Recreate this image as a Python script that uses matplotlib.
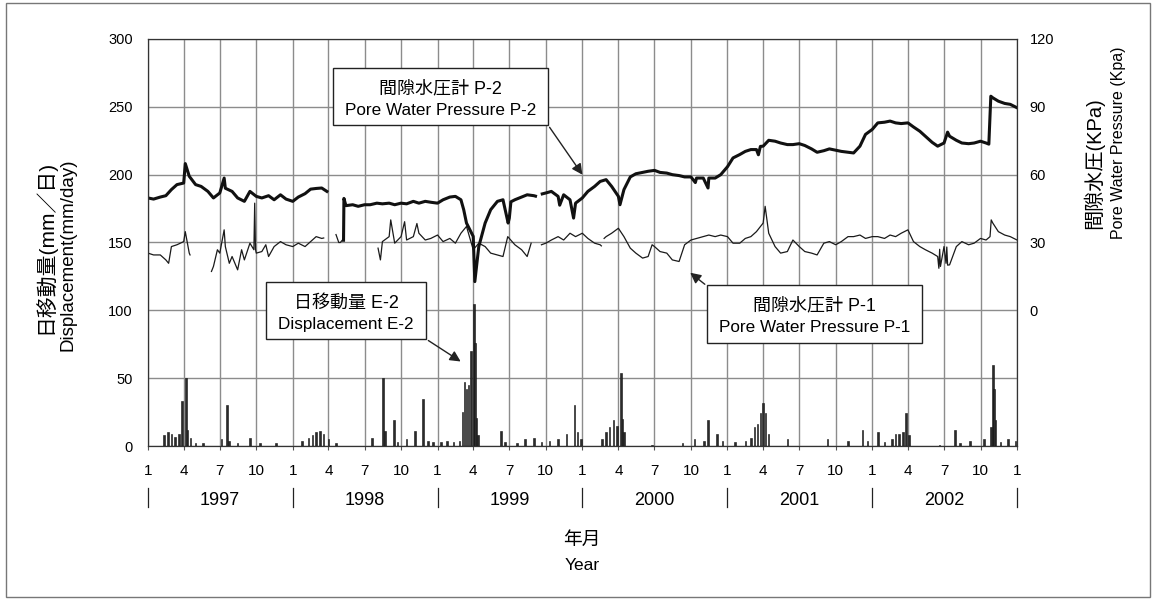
import numpy as np
import pandas as pd
import matplotlib
matplotlib.use('Agg')
import matplotlib.pyplot as plt
import matplotlib.dates as mdates
from matplotlib.ticker import FuncFormatter
from matplotlib.transforms import blended_transform_factory
from matplotlib.patches import Rectangle, FancyArrowPatch

plt.rcParams['font.family'] = ['Liberation Sans', 'Noto Sans CJK JP']

nan = np.nan
W, H = 1154, 603

# pore water pressure P-2 (KPa), read on the 1st and 15th of each month
p2_1997 = [49.7, 49.2, 50.1, 50.7, 53.4, 55.6, 56.3, 59.3, 55.6, 54.8, 52.6, 49.7,
           51.9, 54.0, 52.6, 49.7, 48.2, 52.6, 50.4, 49.7, 50.7, 48.9, 51.1, 49.2]
p2_1998 = [48.2, 50.1, 51.6, 53.6, 53.9, 54.1, nan, nan, nan, 46.3, 46.7, 46.0,
           46.7, 46.7, 47.4, 47.1, 47.4, 46.7, 47.4, 47.1, 48.2, 47.4, 48.2, 47.8]
p2_1999 = [47.4, 48.9, 50.1, 50.4, 48.9, 38.6, 32.7, 28.2, 38.6, 44.5, 48.2, 48.9,
           40.8, 48.9, 50.1, 51.1, 50.7, nan, 51.9, 52.6, 50.4, 51.1, 48.9, 47.4]
p2_2000 = [49.7, 52.6, 54.8, 57.0, 57.8, 54.8, 50.4, 53.4, 59.0, 60.4, 61.0, 61.5,
           61.9, 61.0, 60.7, 60.0, 59.6, 59.0, 59.0, 58.5, 58.5, 58.5, 58.5, 60.0]
p2_2001 = [63.5, 67.4, 68.9, 70.3, 71.1, 71.1, 72.6, 75.2, 74.8, 74.0, 73.3, 73.3,
           73.7, 72.9, 71.4, 69.9, 70.6, 71.4, 70.8, 70.3, 69.9, 69.6, 72.6, 77.8]
p2_2002 = [80.0, 82.9, 83.2, 83.7, 82.9, 82.6, 82.9, 81.1, 79.2, 77.0, 74.3, 72.6,
           74.0, 77.0, 75.2, 74.0, 73.7, 74.0, 74.8, 74.0, 94.0, 92.5, 91.5, 91.1]
p2_extra_day = ['1997-04-05', '1997-07-12', '1998-03-28', '1998-05-09', '1998-05-10',
                '1999-03-08', '1999-04-05', '1999-06-28', '1999-07-05', '1999-09-05',
                '1999-09-22', '1999-11-05', '1999-12-10', '2000-04-05', '2000-10-12',
                '2000-11-13', '2001-03-20', '2001-03-25', '2002-07-10', '2002-10-22',
                '2002-10-27', '2003-01-01']
p2_extra_val = [64.9, 58.5, 52.6, 31.0, 49.5,
                44.5, 12.7, 38.6, 48.0, 50.5,
                51.5, 46.5, 40.8, 46.7, 56.5,
                54.1, 68.8, 72.5, 78.8, 73.5,
                94.7, 89.6]

# pore water pressure P-1 (KPa)
p1_1997 = [25.3, 24.5, 24.5, 22.3, 28.2, 29.0, 30.4, 25.3, nan, nan, nan, 19.4,
           25.3, 28.2, 23.8, 17.9, 22.3, 29.7, 25.3, 26.0, 23.8, 28.2, 30.4, 29.0]
p1_1998 = [28.2, 29.7, 28.2, 30.4, 32.6, 31.8, nan, nan, 30.0, nan, nan, nan,
           nan, nan, nan, 30.4, 32.6, 29.7, 32.6, 31.1, 32.6, 34.1, 31.1, 31.8]
p1_1999 = [33.3, 30.4, 31.8, 29.7, 34.1, 37.1, 26.8, 29.7, 28.2, 25.3, 24.5, 23.8,
           31.8, 29.0, 26.8, 23.8, nan, nan, 29.7, 31.1, 32.6, 31.1, 34.1, 32.6]
p1_2000 = [34.1, 31.8, 29.7, 29.0, 32.6, 34.1, 36.3, 32.6, 27.5, 25.3, 23.1, 23.8,
           28.2, 26.0, 25.3, 22.3, 21.6, 29.0, 31.1, 31.8, 32.6, 33.3, 32.6, 33.3]
p1_2001 = [32.6, 29.7, 29.7, 31.8, 32.6, 34.8, 38.6, 34.1, 28.2, 25.3, 26.0, 31.1,
           28.2, 26.0, 25.3, 24.5, 29.7, 30.4, 29.0, 30.4, 32.6, 32.6, 33.3, 31.8]
p1_2002 = [32.6, 32.6, 31.8, 33.3, 32.6, 34.1, 35.6, 30.4, 28.2, 26.8, 25.3, 23.8,
           28.2, 20.1, 28.2, 30.4, 29.0, 29.7, 31.8, 31.1, 38.6, 34.8, 33.3, 32.6]
p1_extra_day = ['1997-02-22', '1997-04-05', '1997-04-17', '1997-06-10', '1997-06-25',
                '1997-07-12', '1997-07-25', '1997-08-25', '1997-09-25', '1997-09-27',
                '1997-09-29', '1997-10-25', '1998-03-20', '1998-04-20', '1998-04-27',
                '1998-05-08', '1998-08-04', '1998-08-10', '1998-09-05', '1998-10-10',
                '1998-11-10', '1999-06-27', '1999-08-25', '1999-09-20', '2000-02-18',
                '2000-02-21', '2000-02-25', '2000-06-25', '2001-04-06', '2002-06-18',
                '2002-06-20', '2002-06-22', '2002-07-06', '2002-07-08', '2002-07-10',
                '2002-10-25', '2002-10-28', '2003-01-01']
p1_extra_val = [20.8, 34.8, 24.5, 17.2, 26.8,
                35.6, 20.8, 26.8, 26.8, 47.4,
                27.0, 29.0, 32.0, 33.5, 30.0,
                31.5, 27.5, 22.3, 40.0, 39.2,
                38.4, 32.6, 29.7, 29.0, 28.5,
                nan, 31.8, 29.0, 46.0, 18.6,
                27.0, 19.4, 20.8, 28.0, 20.0,
                32.6, 40.0, 31.1]

# daily displacement E-2 (mm/day)
e2_day = ['1997-02-10', '1997-02-20', '1997-03-01', '1997-03-10', '1997-03-20', '1997-03-28',
          '1997-04-07', '1997-04-11', '1997-04-18', '1997-05-01', '1997-05-20', '1997-07-05',
          '1997-07-19', '1997-07-24', '1997-08-15', '1997-09-15', '1997-10-10', '1997-11-20',
          '1998-01-25', '1998-02-10', '1998-02-20', '1998-03-01', '1998-03-10', '1998-03-20',
          '1998-04-01', '1998-04-20', '1998-07-20', '1998-08-16', '1998-08-21', '1998-09-13',
          '1998-09-22', '1998-10-15', '1998-11-05', '1998-11-25', '1998-12-08', '1998-12-20',
          '1999-01-10', '1999-01-25', '1999-02-10', '1999-02-25', '1999-03-05', '1999-03-10',
          '1999-03-15', '1999-03-20', '1999-03-26', '1999-04-03', '1999-04-06', '1999-04-09',
          '1999-04-13', '1999-06-10', '1999-06-20', '1999-07-20', '1999-08-10', '1999-09-01',
          '1999-09-20', '1999-10-10', '1999-11-01', '1999-11-22', '1999-12-12', '1999-12-20',
          '1999-12-28', '2000-02-20', '2000-03-01', '2000-03-10', '2000-03-20', '2000-03-28',
          '2000-04-07', '2000-04-11', '2000-04-15', '2000-06-25', '2000-09-10', '2000-10-10',
          '2000-11-03', '2000-11-13', '2000-12-05', '2000-12-20', '2001-01-20', '2001-02-15',
          '2001-03-01', '2001-03-10', '2001-03-18', '2001-03-25', '2001-04-01', '2001-04-07',
          '2001-04-14', '2001-06-01', '2001-09-10', '2001-11-01', '2001-12-07', '2001-12-20',
          '2002-01-15', '2002-02-01', '2002-02-20', '2002-03-01', '2002-03-10', '2002-03-20',
          '2002-03-27', '2002-04-03', '2002-06-20', '2002-07-28', '2002-08-10', '2002-09-05',
          '2002-10-10', '2002-10-27', '2002-11-01', '2002-11-04', '2002-11-08', '2002-11-20',
          '2002-12-10', '2002-12-28']
e2_val = [8, 10, 9, 7, 9, 33,
          50, 12, 6, 2, 2, 5,
          30, 4, 2, 6, 2, 2,
          4, 6, 8, 10, 11, 9,
          5, 2, 6, 50, 11, 19,
          3, 5, 11, 35, 4, 3,
          3, 4, 3, 4, 25, 47,
          42, 45, 70, 105, 76, 21,
          8, 11, 3, 2, 5, 6,
          3, 4, 5, 9, 30, 10,
          5, 5, 10, 14, 19, 15,
          54, 20, 10, 1, 2, 5,
          4, 19, 9, 4, 3, 4,
          6, 14, 16, 24, 32, 24,
          9, 5, 5, 4, 12, 4,
          10, 3, 5, 9, 9, 10,
          24, 8, 1, 12, 2, 4,
          5, 14, 60, 42, 19, 3,
          5, 4]

years = [1997, 1998, 1999, 2000, 2001, 2002]


def fx(x):
    return x / W


def fy(y):
    return 1 - y / H


half = pd.date_range('1997-01-01', '2002-12-15', freq='SMS')
p2 = pd.Series(p2_1997 + p2_1998 + p2_1999 + p2_2000 + p2_2001 + p2_2002, index=half)
p2 = pd.concat([p2, pd.Series(p2_extra_val, index=pd.to_datetime(p2_extra_day))]).sort_index()
p1 = pd.Series(p1_1997 + p1_1998 + p1_1999 + p1_2000 + p1_2001 + p1_2002, index=half)
p1 = pd.concat([p1, pd.Series(p1_extra_val, index=pd.to_datetime(p1_extra_day))]).sort_index()
e2_dates = pd.to_datetime(e2_day)

fig = plt.figure(figsize=(W / 100, H / 100), dpi=100)
fig.patches.append(Rectangle((fx(6), fy(597)), fx(1144), 594 / H, transform=fig.transFigure,
                             fill=False, edgecolor='#777777', lw=1.0))

ax = fig.add_axes([fx(148), fy(446), fx(1017 - 148), (446 - 39) / H])
ax.set_xlim(pd.Timestamp('1997-01-01'), pd.Timestamp('2003-01-01'))
ax.set_ylim(0, 300)
ax.set_yticks([0, 50, 100, 150, 200, 250, 300])

ax.xaxis.set_major_locator(mdates.MonthLocator(bymonth=[1, 4, 7, 10]))
ax.xaxis.set_major_formatter(FuncFormatter(lambda x, p: str(mdates.num2date(x).month)))
ax.tick_params(axis='x', length=3, pad=10, labelsize=11, color='#555555')
ax.tick_params(axis='y', length=0, pad=11, labelsize=10.5)
for s in ax.spines.values():
    s.set_color('#333333')
    s.set_linewidth(0.9)

ax2 = ax.twinx()
ax2.set_ylim(-60, 120)
ax2.set_yticks([0, 30, 60, 90, 120])
ax2.tick_params(axis='y', length=0, pad=9, labelsize=10.5)
for s in ax2.spines.values():
    s.set_visible(False)

# grid, then pressure lines, on the pressure axes
for d in ax.get_xticks():
    ax2.axvline(d, color='#8c8c8c', lw=1.0, zorder=0.5)
for v in [-60, -30, 0, 30, 60, 90, 120]:
    ax2.axhline(v, color='#8c8c8c', lw=1.0, zorder=0.5)
ax2.plot(p1.index, p1.values, color='#1a1a1a', lw=0.9, zorder=2)
ax2.plot(p2.index, p2.values, color='#111111', lw=2.2, zorder=2)

# displacement bars on the left axes, drawn above the grid
ax.set_zorder(ax2.get_zorder() + 1)
ax.patch.set_visible(False)
ax.bar(e2_dates, e2_val, width=4, color='#2b2b2b', edgecolor='#111111', lw=0.4, zorder=3)

# year row under month labels
tr = blended_transform_factory(ax.transData, ax.transAxes)
for yr in years + [2003]:
    d = mdates.date2num(pd.Timestamp(f'{yr}-01-01'))
    ax.plot([d, d], [-0.104, -0.150], transform=tr, clip_on=False, color='#222222', lw=0.9)
for yr in years:
    ax.text(pd.Timestamp(f'{yr}-07-01'), -0.133, str(yr), transform=tr,
            ha='center', va='center', fontsize=13)

fig.text(fx(582), fy(540), '年月', ha='center', va='center', fontsize=13.5)
fig.text(fx(582), fy(565), 'Year', ha='center', va='center', fontsize=12.5)

fig.text(fx(44), fy(247), '日移動量(mm／日)', rotation=90, ha='center', va='center', fontsize=15)
fig.text(fx(68), fy(255), 'Displacement(mm/day)', rotation=90, ha='center', va='center', fontsize=13.5)
fig.text(fx(1093), fy(163), '間隙水圧(KPa)', rotation=90, ha='center', va='center', fontsize=14.5)
fig.text(fx(1118), fy(143), 'Pore Water Pressure (Kpa)', rotation=90, ha='center', va='center', fontsize=11.5)

# callout boxes
boxes = [(333, 68, 215, 57, '間隙水圧計 P-2', 'Pore Water Pressure P-2'),
         (266, 282, 160, 57, '日移動量 E-2', 'Displacement E-2'),
         (707, 285, 215, 58, '間隙水圧計 P-1', 'Pore Water Pressure P-1')]
for bx, by, bw, bh, t1, t2 in boxes:
    fig.patches.append(Rectangle((fx(bx), fy(by + bh)), bw / W, bh / H, transform=fig.transFigure,
                                 facecolor='white', edgecolor='#222222', lw=1.0, zorder=5))
    fig.text(fx(bx + bw / 2), fy(by + 21), t1, ha='center', va='center', fontsize=13, zorder=6)
    fig.text(fx(bx + bw / 2), fy(by + 42), t2, ha='center', va='center', fontsize=12.3, zorder=6)

arrows = [((548, 125), (584, 177)), ((426, 339), (463, 363)), ((707, 286), (688, 271))]
for (x0, y0), (x1, y1) in arrows:
    fig.add_artist(FancyArrowPatch(
        (fx(x0), fy(y0)), (fx(x1), fy(y1)), transform=fig.transFigure,
        arrowstyle='-|>', mutation_scale=16, color='#222222', lw=1.0, zorder=6))

fig.savefig('out.png', dpi=100)
